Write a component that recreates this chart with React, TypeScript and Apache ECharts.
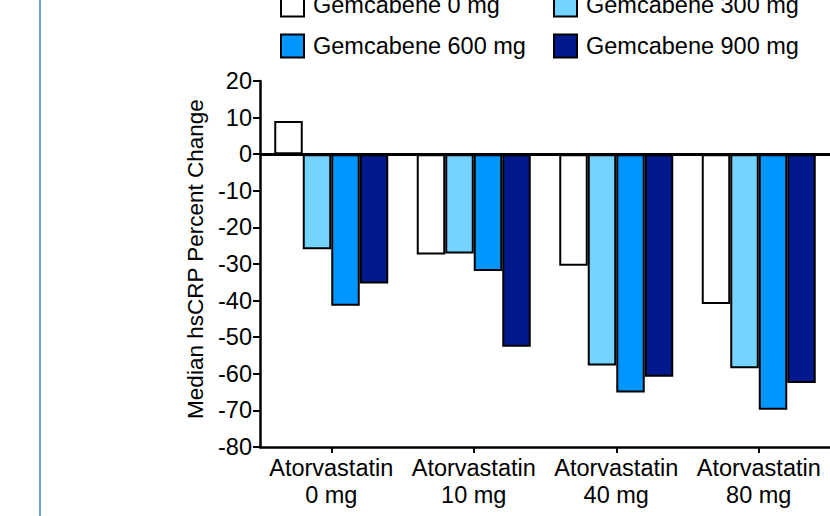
import React, { useEffect, useRef } from "react";
import * as echarts from "echarts";

const categories = ["Atorvastatin\n0 mg", "Atorvastatin\n10 mg", "Atorvastatin\n40 mg", "Atorvastatin\n80 mg"];
const seriesNames = ["Gemcabene 0 mg", "Gemcabene 300 mg", "Gemcabene 600 mg", "Gemcabene 900 mg"];
const gem0 = [9.1, -27.4, -30.5, -40.9];
const gem300 = [-26.0, -27.1, -57.7, -58.5];
const gem600 = [-41.4, -31.9, -65.1, -69.8];
const gem900 = [-35.3, -52.6, -60.8, -62.5];
const seriesColors = ["#ffffff", "#75d4ff", "#0096ff", "#001a8e"];
const yMin = -80;
const yMax = 20;
const yInterval = 10;

const FONT = "'Liberation Sans', Arial, sans-serif";
const FS = 23.5;

export default function App() {
  const ref = useRef<HTMLDivElement>(null);
  useEffect(() => {
    if (!ref.current) return;
    const chart = echarts.init(ref.current, null, { renderer: "svg" });
    const values = [gem0, gem300, gem600, gem900];
    const legendPos = [
      { left: 280, top: -7.5 },
      { left: 553, top: -7.5 },
      { left: 280, top: 33.5 },
      { left: 553, top: 33.5 },
    ];
    const option: any = {
      animation: false,
      backgroundColor: "#ffffff",
      textStyle: { fontFamily: FONT, color: "#000" },
      graphic: [
        {
          type: "rect",
          shape: { x: 39, y: 0, width: 2, height: 516 },
          style: { fill: "#6d9fd6" },
          silent: true,
        },
      ],
      legend: seriesNames.map((n, i) => ({
        data: [n],
        left: legendPos[i].left,
        top: legendPos[i].top,
        padding: 0,
        itemWidth: 23,
        itemHeight: 23,
        itemGap: 0,
        icon: "rect",
        selectedMode: false,
        textStyle: { fontFamily: FONT, fontSize: FS, color: "#000", padding: [0, 0, 0, 4] },
      })),
      grid: { left: 260, right: -7, top: 81, bottom: 69, containLabel: false },
      xAxis: {
        type: "category",
        data: categories,
        axisLine: { show: true, onZero: false, lineStyle: { color: "#000", width: 2.5 } },
        axisTick: { show: true, alignWithLabel: true, length: 6, lineStyle: { color: "#000", width: 2 } },
        axisLabel: { color: "#000", fontFamily: FONT, fontSize: FS, lineHeight: 27, margin: 7, interval: 0 },
        splitLine: { show: false },
      },
      yAxis: {
        type: "value",
        min: yMin,
        max: yMax,
        interval: yInterval,
        name: "Median hsCRP Percent Change",
        nameLocation: "middle",
        nameGap: 50,
        nameTextStyle: { color: "#000", fontFamily: FONT, fontSize: 22.5, padding: [0, 0, 0, 10] },
        axisLine: { show: true, lineStyle: { color: "#000", width: 2.5 } },
        axisTick: { show: true, length: 7, lineStyle: { color: "#000", width: 2 } },
        axisLabel: { color: "#000", fontFamily: FONT, fontSize: FS, margin: 8 },
        splitLine: { show: false },
      },
      series: seriesNames.map((n, i) => ({
        name: n,
        type: "bar",
        data: values[i],
        barGap: "0%",
        barCategoryGap: "20%",
        itemStyle: { color: seriesColors[i], borderColor: "#000", borderWidth: 2 },
        emphasis: { disabled: true },
        ...(i === 0
          ? {
              markLine: {
                silent: true,
                symbol: ["none", "none"],
                label: { show: false },
                lineStyle: { color: "#000", width: 3, type: "solid" },
                data: [{ yAxis: 0 }],
                z: 10,
              },
            }
          : {}),
      })),
    };
    chart.setOption(option);
    return () => chart.dispose();
  }, []);
  return (
    <div
      ref={ref}
      style={{ position: "absolute", left: 0, top: 0, width: 830, height: 516 }}
    />
  );
}
